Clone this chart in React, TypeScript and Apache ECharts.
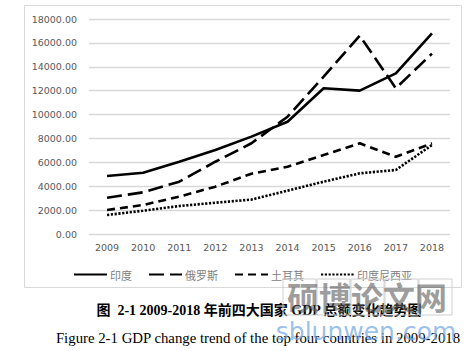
import React, { useEffect, useRef } from "react";
import * as echarts from "echarts";

const years = ["2009", "2010", "2011", "2012", "2013", "2014", "2015", "2016", "2017", "2018"];
const india = [4860, 5130, 6050, 7030, 8150, 9400, 12200, 12000, 13450, 16800];
const russia = [3040, 3490, 4380, 6050, 7600, 9820, 13170, 16600, 12200, 15100];
const turkey = [2010, 2430, 3130, 3960, 5050, 5630, 6610, 7590, 6470, 7590];
const indonesia = [1590, 1950, 2340, 2620, 2880, 3630, 4380, 5080, 5360, 7450];
const names = ["印度", "俄罗斯", "土耳其", "印度尼西亚"];

export default function App() {
  const ref = useRef<HTMLDivElement>(null);
  useEffect(() => {
    const chart = echarts.init(ref.current!, null, { renderer: "svg" });
    const mk = (name: string, data: number[], dash: any) => ({
      name,
      type: "line",
      data,
      symbol: "none",
      lineStyle: { color: "#000", width: 2.6, type: dash, cap: "butt" },
      itemStyle: { color: "#000" },
    });
    chart.setOption({
      animation: false,
      backgroundColor: "#fff",
      grid: { left: 89, right: 19, top: 19, bottom: 117 },
      xAxis: {
        type: "category",
        data: years,
        boundaryGap: true,
        axisLine: { show: false },
        axisTick: { show: false },
        axisLabel: { color: "#595959", fontSize: 9.5, fontFamily: "DejaVu Sans", margin: 8 },
      },
      yAxis: {
        type: "value",
        min: 0,
        max: 18000,
        interval: 2000,
        axisLine: { show: false },
        axisTick: { show: false },
        axisLabel: {
          color: "#595959",
          fontSize: 9.5,
          fontFamily: "DejaVu Sans",
          margin: 12,
          formatter: (v: number) => v.toFixed(2),
        },
        splitLine: { lineStyle: { color: "#d9d9d9", width: 1.3 } },
      },
      legend: {
        data: names,
        top: 264,
        left: 68,
        itemWidth: 33,
        itemHeight: 10,
        itemGap: 16,
        itemStyle: { opacity: 0 },
        textStyle: { color: "#808080", fontSize: 11, fontFamily: "Noto Sans CJK SC", padding: [0, 0, 0, -2] },
      },
      series: [
        mk(names[0], india, "solid"),
        mk(names[1], russia, [15, 6]),
        mk(names[2], turkey, [8, 5]),
        mk(names[3], indonesia, [2.2, 1.6]),
      ],
      graphic: [
        {
          type: "rect",
          shape: { x: 24.5, y: 5.5, width: 437, height: 282 },
          style: { fill: "none", stroke: "#d9d9d9", lineWidth: 1 },
          silent: true,
        },
        ...[0, 1, 2, 3, 4].map((i) => ({
          type: "rect",
          shape: { x: 283 + i * 34, y: 279, width: 33, height: 36 },
          style: { fill: "none", stroke: "#cfcfcf", lineWidth: 1 },
          silent: true,
          z: 10,
        })),
        {
          type: "text",
          x: 259,
          y: 310,
          style: {
            text: "图  2-1 2009-2018 年前四大国家 GDP 总额变化趋势图",
            fill: "#000",
            font: "bold 14px 'Liberation Serif', 'Noto Sans CJK SC'",
            align: "center",
            verticalAlign: "middle",
          },
          z: 5,
        },
        {
          type: "text",
          x: 258,
          y: 338,
          style: {
            text: "Figure 2-1 GDP change trend of the top four countries in 2009-2018",
            fill: "#000",
            font: "14.8px 'Liberation Serif'",
            align: "center",
            verticalAlign: "middle",
          },
          z: 5,
        },
        {
          type: "text",
          x: 367,
          y: 296,
          style: {
            text: "硕博论文网",
            fill: "rgba(90,90,90,0.6)",
            font: "bold 32px 'Noto Sans CJK SC'",
            align: "center",
            verticalAlign: "middle",
            letterSpacing: 2,
          },
          z: 20,
        },
        {
          type: "text",
          x: 366,
          y: 331,
          style: {
            text: "sblunwen.com",
            fill: "rgba(110,165,225,0.7)",
            font: "25px 'DejaVu Sans'",
            align: "center",
            verticalAlign: "middle",
          },
          z: 20,
        },
      ],
    });
    return () => chart.dispose();
  }, []);
  return (
    <div
      ref={ref}
      style={{ position: "fixed", left: 0, top: 0, width: 469, height: 351 }}
    />
  );
}
